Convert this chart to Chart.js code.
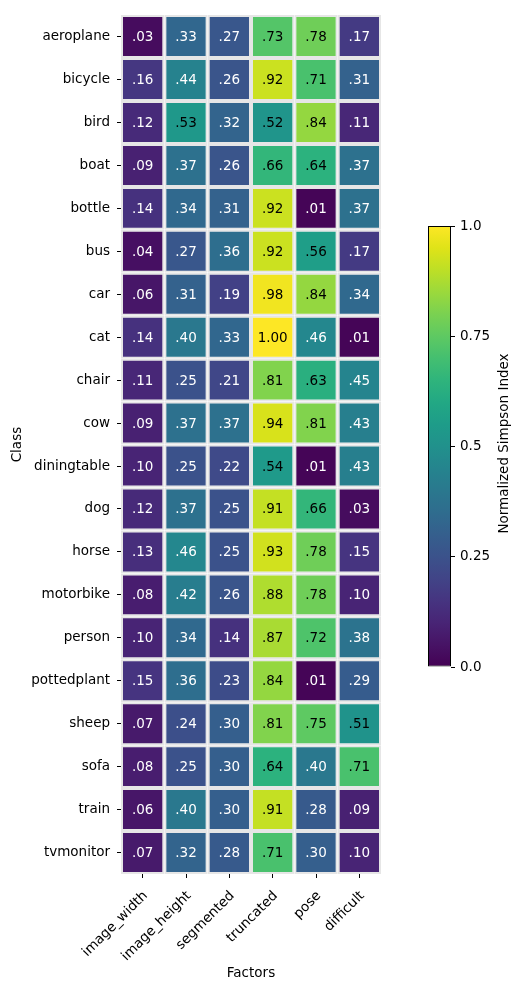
<!DOCTYPE html>
<html>
<head>
<meta charset="utf-8">
<script src="https://cdn.jsdelivr.net/npm/chart.js@4/dist/chart.umd.min.js"></script>
<style>
  body { margin: 0; background: #fff; }
  #wrap { position: relative; width: 519px; height: 990px; }
  #chart { position: absolute; left: 0; top: 0; }
  #colorbar { position: absolute; left: 380px; top: 200px; }
</style>
</head>
<body>
<div id="wrap">
  <canvas id="chart" width="519" height="990"></canvas>
  <canvas id="colorbar" width="139" height="490"></canvas>
</div>
<script>
// classes (rows) and factors (columns)
const classes = ['aeroplane', 'bicycle', 'bird', 'boat', 'bottle', 'bus', 'car', 'cat', 'chair', 'cow',
  'diningtable', 'dog', 'horse', 'motorbike', 'person', 'pottedplant', 'sheep', 'sofa', 'train', 'tvmonitor'];
const factors = ['image_width', 'image_height', 'segmented', 'truncated', 'pose', 'difficult'];

// one array per factor, one value per class
const imageWidth  = [0.03, 0.16, 0.12, 0.09, 0.14, 0.04, 0.06, 0.14, 0.11, 0.09, 0.10, 0.12, 0.13, 0.08, 0.10, 0.15, 0.07, 0.08, 0.06, 0.07];
const imageHeight = [0.33, 0.44, 0.53, 0.37, 0.34, 0.27, 0.31, 0.40, 0.25, 0.37, 0.25, 0.37, 0.46, 0.42, 0.34, 0.36, 0.24, 0.25, 0.40, 0.32];
const segmented   = [0.27, 0.26, 0.32, 0.26, 0.31, 0.36, 0.19, 0.33, 0.21, 0.37, 0.22, 0.25, 0.25, 0.26, 0.14, 0.23, 0.30, 0.30, 0.30, 0.28];
const truncated   = [0.73, 0.92, 0.52, 0.66, 0.92, 0.92, 0.98, 1.00, 0.81, 0.94, 0.54, 0.91, 0.93, 0.88, 0.87, 0.84, 0.81, 0.64, 0.91, 0.71];
const pose        = [0.78, 0.71, 0.84, 0.64, 0.01, 0.56, 0.84, 0.46, 0.63, 0.81, 0.01, 0.66, 0.78, 0.78, 0.72, 0.01, 0.75, 0.40, 0.28, 0.30];
const difficult   = [0.17, 0.31, 0.11, 0.37, 0.37, 0.17, 0.34, 0.01, 0.45, 0.43, 0.43, 0.03, 0.15, 0.10, 0.38, 0.29, 0.51, 0.71, 0.09, 0.10];
const columns = [imageWidth, imageHeight, segmented, truncated, pose, difficult];

// colour bar
const colorbarRange = [0, 1];
const colorbarTicks = [0, 0.25, 0.5, 0.75, 1.0];
const colorbarTickLabels = ['0.0', '0.25', '0.5', '0.75', '1.0'];

// viridis, sampled every 0.05
const viridisStops = ['#440154', '#471365', '#482475', '#463480', '#414487', '#3b528b', '#355f8d',
  '#2f6c8e', '#2a788e', '#25848e', '#21918c', '#1e9c89', '#22a884', '#2fb47c', '#44bf70', '#5ec962',
  '#7ad151', '#9bd93c', '#bddf26', '#dfe318', '#fde725'];

function hexToRgb(h) {
  return [parseInt(h.slice(1, 3), 16), parseInt(h.slice(3, 5), 16), parseInt(h.slice(5, 7), 16)];
}
function viridis(v) {
  const t = Math.min(Math.max(v, 0), 1) * (viridisStops.length - 1);
  const k = Math.min(Math.floor(t), viridisStops.length - 2);
  const f = t - k;
  const a = hexToRgb(viridisStops[k]), b = hexToRgb(viridisStops[k + 1]);
  const c = a.map((x, i) => Math.round(x + (b[i] - x) * f));
  return 'rgb(' + c.join(',') + ')';
}

const FONT = { family: '"DejaVu Sans", sans-serif', size: 13.5 };
const GRIDLINE = '#e6e6e6';
const fmt = v => v.toFixed(2).replace(/^0/, '');

// writes the value in each cell
const cellLabels = {
  id: 'cellLabels',
  afterDatasetsDraw(chart) {
    const ctx = chart.ctx;
    ctx.save();
    ctx.font = FONT.size + 'px ' + FONT.family;
    ctx.textAlign = 'center';
    ctx.textBaseline = 'middle';
    chart.data.datasets.forEach((ds, j) => {
      chart.getDatasetMeta(j).data.forEach((bar, i) => {
        const v = ds.values[i];
        const p = bar.getCenterPoint();
        ctx.fillStyle = v >= 0.5 ? '#000' : '#fff';
        ctx.fillText(fmt(v), p.x, p.y + 1);
      });
    });
    ctx.restore();
  }
};

new Chart(document.getElementById('chart'), {
  type: 'bar',
  data: {
    labels: classes,
    datasets: factors.map((f, j) => ({
      label: f,
      data: classes.map(() => 1),
      values: columns[j],
      backgroundColor: columns[j].map(viridis),
      borderColor: GRIDLINE,
      borderWidth: 2,
      borderSkipped: false,
      inflateAmount: 0,
      barPercentage: 1,
      categoryPercentage: 1
    }))
  },
  options: {
    indexAxis: 'y',
    responsive: false,
    animation: false,
    layout: { padding: { top: 10, right: 138, left: 0, bottom: 0 } },
    plugins: { legend: { display: false }, tooltip: { enabled: false } },
    scales: {
      x: {
        type: 'linear',
        stacked: true,
        min: 0,
        max: factors.length,
        afterBuildTicks: s => { s.ticks = factors.map((f, j) => ({ value: j + 0.5 })); },
        afterFit: s => { s.height = 116; },
        ticks: {
          callback: (v, i) => factors[i],
          minRotation: 45, maxRotation: 45, autoSkip: false,
          font: FONT, color: '#000', padding: 10, labelOffset: 3
        },
        grid: { drawOnChartArea: false, drawTicks: true, tickLength: 4, tickColor: '#000', tickWidth: 1 },
        border: { display: false },
        title: { display: true, text: 'Factors', font: FONT, color: '#000', padding: { top: 4, bottom: 8 } }
      },
      y: {
        type: 'category',
        stacked: true,
        offset: true,
        afterFit: s => { s.width = 121; },
        ticks: { font: FONT, color: '#000', padding: 7, autoSkip: false },
        grid: { offset: false, drawOnChartArea: false, drawTicks: true, tickLength: 4, tickColor: '#000', tickWidth: 1 },
        border: { display: false },
        title: { display: true, text: 'Class', font: FONT, color: '#000', padding: { top: 9 } }
      }
    }
  },
  plugins: [cellLabels]
});

// colour bar label, read bottom to top
const colorbarTitle = {
  id: 'colorbarTitle',
  afterDraw(chart) {
    const { ctx, chartArea } = chart;
    ctx.save();
    ctx.font = FONT.size + 'px ' + FONT.family;
    ctx.fillStyle = '#000';
    ctx.textAlign = 'center';
    ctx.textBaseline = 'middle';
    ctx.translate(chartArea.right + 53, (chartArea.top + chartArea.bottom) / 2 - 3);
    ctx.rotate(-Math.PI / 2);
    ctx.fillText('Normalized Simpson Index', 0, 0);
    ctx.restore();
  }
};

new Chart(document.getElementById('colorbar'), {
  type: 'bar',
  data: {
    labels: [''],
    datasets: [{
      data: [colorbarRange],
      backgroundColor: c => {
        const a = c.chart.chartArea;
        if (!a) return viridis(0.5);
        const g = c.chart.ctx.createLinearGradient(0, a.bottom, 0, a.top);
        viridisStops.forEach((s, k) => g.addColorStop(k / (viridisStops.length - 1), s));
        return g;
      },
      borderColor: '#000',
      borderWidth: 1,
      borderSkipped: false,
      inflateAmount: 0,
      barPercentage: 1,
      categoryPercentage: 1
    }]
  },
  options: {
    responsive: false,
    animation: false,
    layout: { padding: { left: 48, top: 26, bottom: 23, right: 0 } },
    plugins: { legend: { display: false }, tooltip: { enabled: false } },
    scales: {
      x: { display: false },
      y: {
        type: 'linear',
        position: 'right',
        min: colorbarRange[0],
        max: colorbarRange[1],
        afterBuildTicks: s => { s.ticks = colorbarTicks.map(v => ({ value: v })); },
        afterFit: s => { s.width = 68; },
        ticks: { callback: (v, i) => colorbarTickLabels[i], font: FONT, color: '#000', padding: 5 },
        grid: { drawOnChartArea: false, drawTicks: true, tickLength: 4, tickColor: '#000', tickWidth: 1 },
        border: { display: false }
      }
    }
  },
  plugins: [colorbarTitle]
});
</script>
</body>
</html>
